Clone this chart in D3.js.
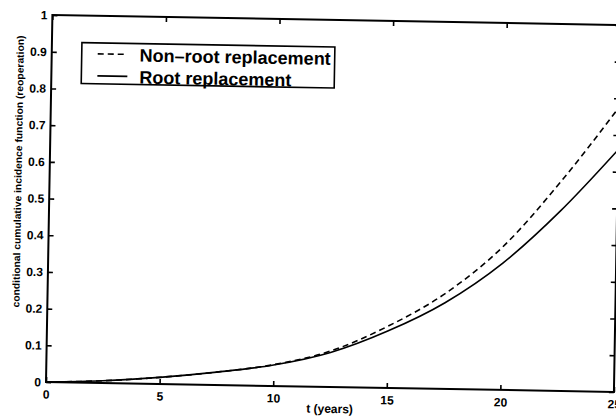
<!DOCTYPE html>
<html>
<head>
<meta charset="utf-8">
<script src="https://cdn.jsdelivr.net/npm/d3@7"></script>
<style>
  body { margin: 0; background: #fff; }
  svg { display: block; }
</style>
</head>
<body>
<div id="chart"></div>
<script>
const width = 616;
const height = 416;

// values
const years = [0, 2.5, 5, 7.5, 10, 12.5, 15, 17.5, 20, 22.5, 25];
const nonRoot = [0, 0.006, 0.018, 0.035, 0.058, 0.098, 0.168, 0.26, 0.39, 0.57, 0.775];
const root = [0, 0.006, 0.018, 0.035, 0.057, 0.094, 0.155, 0.235, 0.345, 0.49, 0.66];
const xTicks = [0, 5, 10, 15, 20, 25];
const yTicks = [0, 0.1, 0.2, 0.3, 0.4, 0.5, 0.6, 0.7, 0.8, 0.9, 1];
const seriesNames = ["Non\u2013root replacement", "Root replacement"];

const plot = { left: 46, right: 614, top: 15, bottom: 382 };
const tilt = 1; // the scan is slightly rotated

const svg = d3.select('#chart')
    .append('svg')
    .attr('width', width)
    .attr('height', height);

const g = svg.append('g')
    .attr('transform', `rotate(${tilt},${plot.left},${plot.bottom})`);

const x = d3.scaleLinear().domain([0, 25]).range([plot.left, plot.right]);
const y = d3.scaleLinear().domain([0, 1]).range([plot.bottom, plot.top]);

const fmt = d => d === 0 ? "0" : d === 1 ? "1" : d3.format(".1f")(d);

function styleAxis(sel) {
    sel.select('.domain').remove();
    sel.selectAll('line').attr('stroke', '#000').attr('stroke-width', 1.6);
    sel.selectAll('text')
        .attr('fill', '#000')
        .style('font-family', '"Liberation Sans", Arial, sans-serif')
        .style('font-weight', 'bold')
        .style('font-size', '12px');
}

g.append('g')
    .attr('transform', `translate(0,${plot.bottom})`)
    .call(d3.axisBottom(x).tickValues(xTicks).tickSizeInner(-5).tickSizeOuter(0).tickPadding(8).tickFormat(d3.format('d')))
    .call(styleAxis);

g.append('g')
    .attr('transform', `translate(0,${plot.top})`)
    .call(d3.axisTop(x).tickValues(xTicks).tickSizeInner(-5).tickSizeOuter(0).tickFormat(''))
    .call(styleAxis);

g.append('g')
    .attr('transform', `translate(${plot.left},0)`)
    .call(d3.axisLeft(y).tickValues(yTicks).tickSizeInner(-5).tickSizeOuter(0).tickPadding(5).tickFormat(fmt))
    .call(styleAxis);

g.append('g')
    .attr('transform', `translate(${plot.right},0)`)
    .call(d3.axisRight(y).tickValues(yTicks).tickSizeInner(-5).tickSizeOuter(0).tickFormat(''))
    .call(styleAxis);

// frame
g.append('rect')
    .attr('x', plot.left)
    .attr('y', plot.top)
    .attr('width', plot.right - plot.left)
    .attr('height', plot.bottom - plot.top)
    .attr('fill', 'none')
    .attr('stroke', '#000')
    .attr('stroke-width', 2);

const line = d3.line()
    .x((d, i) => x(years[i]))
    .y(d => y(d))
    .curve(d3.curveMonotoneX);

g.append('path')
    .datum(nonRoot)
    .attr('d', line)
    .attr('fill', 'none')
    .attr('stroke', '#000')
    .attr('stroke-width', 1.6)
    .attr('stroke-dasharray', '6,4');

g.append('path')
    .datum(root)
    .attr('d', line)
    .attr('fill', 'none')
    .attr('stroke', '#000')
    .attr('stroke-width', 1.6);

// axis titles
g.append('text')
    .attr('x', (plot.left + plot.right) / 2)
    .attr('y', 408)
    .attr('text-anchor', 'middle')
    .style('font-family', '"Liberation Sans", Arial, sans-serif')
    .style('font-weight', 'bold')
    .style('font-size', '12px')
    .text('t (years)');

g.append('text')
    .attr('transform', 'translate(18,172) rotate(-90)')
    .attr('text-anchor', 'middle')
    .attr('textLength', 272)
    .attr('lengthAdjust', 'spacingAndGlyphs')
    .style('font-family', '"Liberation Sans", Arial, sans-serif')
    .style('font-weight', 'bold')
    .style('font-size', '10px')
    .text('conditional cumulative incidence function (reoperation)');

// legend
const legend = g.append('g').attr('transform', 'translate(76,42)');
legend.append('rect')
    .attr('width', 253)
    .attr('height', 41)
    .attr('fill', '#fff')
    .attr('stroke', '#000')
    .attr('stroke-width', 1.6);

seriesNames.forEach((name, i) => {
    const row = legend.append('g').attr('transform', `translate(0,${11 + i * 22})`);
    row.append('line')
        .attr('x1', 16).attr('x2', 46)
        .attr('stroke', '#000')
        .attr('stroke-width', 1.6)
        .attr('stroke-dasharray', i === 0 ? '6,4' : null);
    row.append('text')
        .attr('x', 58)
        .attr('y', 7)
        .style('font-family', '"Liberation Sans", Arial, sans-serif')
        .style('font-weight', 'bold')
        .style('font-size', '18px')
        .text(name);
});
</script>
</body>
</html>
